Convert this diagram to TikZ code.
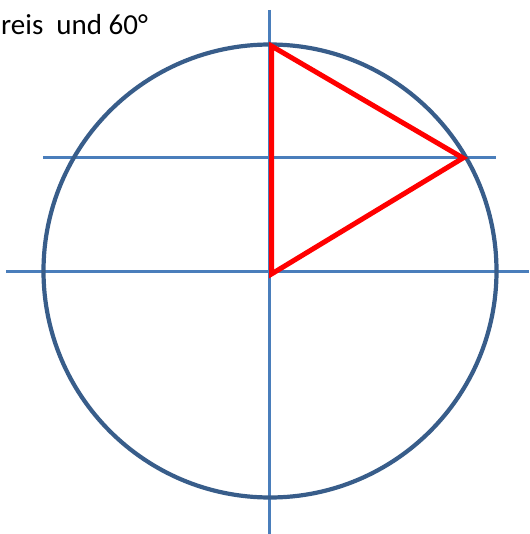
\documentclass[tikz,border=0pt]{standalone}
\usepackage{fontspec}
\setmainfont{Carlito}
\definecolor{axisblue}{HTML}{4A7EBB}
\definecolor{circblue}{HTML}{385D8A}
\definecolor{trired}{HTML}{FF0000}
\tikzset{
  axisline/.style={draw=axisblue, line width=3pt},
  circline/.style={draw=circblue, line width=4.2pt},
  triline/.style={draw=trired, line width=5pt, line join=miter},
}
\begin{document}
\begin{tikzpicture}[x=1pt,y=-1pt]
\useasboundingbox (0,0) rectangle (529,534);
% axes
\coordinate (vtop) at (269,10);
\coordinate (vbot) at (269,534);
\coordinate (hl) at (6,271);
\coordinate (hr) at (529,271);
\coordinate (ml) at (43,158);
\coordinate (mr) at (496,158);
\draw[axisline] (vtop) -- (vbot);
\draw[axisline] (hl) -- (hr);
\draw[axisline] (ml) -- (mr);
% circle
\coordinate (c) at (270,271);
\draw[circline] (c) circle[radius=226.5];
% triangle
\coordinate (A) at (271.5,46);
\coordinate (B) at (463,158);
\coordinate (C) at (271.5,274);
\draw[triline] (A) -- (B) -- (C) -- cycle;
% text
\node[anchor=base west, inner sep=0pt, font=\fontsize{29}{35}\selectfont] (t) at (1,35) {reis\ \ und 60°};
\end{tikzpicture}
\end{document}
